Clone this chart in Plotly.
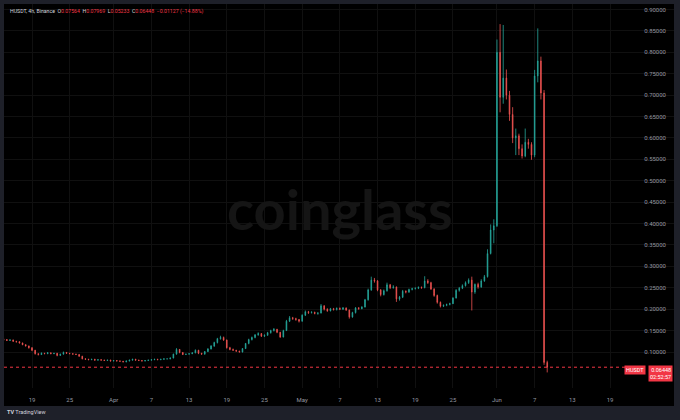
import pandas as pd
import plotly.graph_objects as go

SYMBOL = "HUSDT"
INTERVAL = "4h"
EXCHANGE = "Binance"

GREEN = "#26a69a"
RED = "#ef5350"
LABEL_RED = "#f23645"

# 4h bars are ~1px wide in the screenshot, so read as 12h bars
START = "2025-03-14 12:00"
first_open = 0.130
closes = [
    0.129, 0.127, 0.128, 0.125, 0.124, 0.121, 0.117, 0.114, 0.110, 0.104,
    0.096, 0.094, 0.097, 0.096, 0.098, 0.096, 0.097, 0.092, 0.095, 0.099,
    0.097, 0.096, 0.095, 0.094, 0.090, 0.084, 0.083, 0.082, 0.083, 0.081,
    0.082, 0.081, 0.080, 0.081, 0.079, 0.080, 0.079, 0.0785, 0.077, 0.079,
    0.081, 0.083, 0.081, 0.080, 0.079, 0.080, 0.081, 0.082, 0.083, 0.082,
    0.083, 0.084, 0.084, 0.086, 0.095, 0.106, 0.099, 0.094, 0.095, 0.096,
    0.098, 0.104, 0.097, 0.095, 0.101, 0.107, 0.114, 0.122, 0.131, 0.134,
    0.128, 0.110, 0.106, 0.104, 0.102, 0.100, 0.108, 0.120, 0.129, 0.134,
    0.140, 0.143, 0.137, 0.139, 0.145, 0.150, 0.153, 0.146, 0.135, 0.150,
    0.172, 0.180, 0.178, 0.176, 0.172, 0.186, 0.194, 0.192, 0.193, 0.190,
    0.191, 0.208, 0.200, 0.196, 0.201, 0.199, 0.202, 0.200, 0.203, 0.198,
    0.182, 0.192, 0.203, 0.201, 0.205, 0.222, 0.245, 0.268, 0.266, 0.245,
    0.234, 0.243, 0.257, 0.250, 0.252, 0.224, 0.228, 0.242, 0.240, 0.246,
    0.248, 0.249, 0.251, 0.250, 0.266, 0.262, 0.247, 0.232, 0.216, 0.207,
    0.209, 0.211, 0.213, 0.226, 0.244, 0.249, 0.255, 0.262, 0.268, 0.240,
    0.258, 0.252, 0.266, 0.276, 0.330, 0.385, 0.395, 0.800, 0.695, 0.740,
    0.700, 0.655, 0.600, 0.605, 0.575, 0.558, 0.590, 0.585, 0.560, 0.745,
    0.780, 0.705, 0.07564, 0.06448,
]
highs = [
    0.131, 0.130, 0.130, 0.129, 0.126, 0.125, 0.122, 0.118, 0.115, 0.111,
    0.105, 0.097, 0.099, 0.098, 0.100, 0.099, 0.098, 0.098, 0.096, 0.101,
    0.100, 0.098, 0.097, 0.096, 0.095, 0.091, 0.085, 0.084, 0.084, 0.084,
    0.083, 0.083, 0.082, 0.082, 0.082, 0.081, 0.081, 0.080, 0.079, 0.080,
    0.082, 0.084, 0.084, 0.082, 0.081, 0.081, 0.082, 0.083, 0.084, 0.084,
    0.084, 0.085, 0.085, 0.087, 0.096, 0.109, 0.107, 0.100, 0.096, 0.097,
    0.099, 0.106, 0.105, 0.098, 0.102, 0.109, 0.116, 0.124, 0.133, 0.138,
    0.136, 0.129, 0.112, 0.108, 0.105, 0.103, 0.109, 0.121, 0.131, 0.136,
    0.142, 0.146, 0.144, 0.141, 0.147, 0.152, 0.156, 0.154, 0.147, 0.152,
    0.175, 0.184, 0.182, 0.180, 0.177, 0.188, 0.197, 0.196, 0.195, 0.194,
    0.193, 0.212, 0.209, 0.202, 0.203, 0.203, 0.204, 0.204, 0.205, 0.204,
    0.199, 0.194, 0.205, 0.205, 0.207, 0.224, 0.248, 0.276, 0.273, 0.268,
    0.247, 0.246, 0.262, 0.259, 0.256, 0.253, 0.231, 0.245, 0.244, 0.248,
    0.250, 0.251, 0.253, 0.253, 0.277, 0.270, 0.264, 0.249, 0.234, 0.218,
    0.211, 0.213, 0.215, 0.228, 0.247, 0.252, 0.258, 0.265, 0.272, 0.276,
    0.260, 0.262, 0.270, 0.280, 0.340, 0.398, 0.410, 0.830, 0.866, 0.864,
    0.760, 0.710, 0.672, 0.622, 0.610, 0.585, 0.622, 0.598, 0.590, 0.759,
    0.856, 0.790, 0.712, 0.07969,
]
lows = [
    0.127, 0.126, 0.126, 0.124, 0.122, 0.120, 0.116, 0.113, 0.108, 0.102,
    0.094, 0.092, 0.093, 0.095, 0.095, 0.095, 0.095, 0.090, 0.091, 0.094,
    0.096, 0.095, 0.094, 0.093, 0.089, 0.083, 0.082, 0.081, 0.081, 0.080,
    0.080, 0.080, 0.079, 0.079, 0.078, 0.078, 0.078, 0.077, 0.076, 0.076,
    0.078, 0.080, 0.080, 0.079, 0.078, 0.078, 0.079, 0.080, 0.081, 0.081,
    0.081, 0.082, 0.083, 0.083, 0.085, 0.094, 0.097, 0.093, 0.093, 0.094,
    0.095, 0.097, 0.095, 0.094, 0.094, 0.100, 0.106, 0.112, 0.120, 0.129,
    0.126, 0.108, 0.104, 0.103, 0.101, 0.099, 0.099, 0.107, 0.118, 0.127,
    0.132, 0.138, 0.135, 0.135, 0.138, 0.143, 0.148, 0.144, 0.133, 0.134,
    0.149, 0.170, 0.175, 0.173, 0.169, 0.171, 0.184, 0.189, 0.190, 0.188,
    0.187, 0.190, 0.197, 0.194, 0.195, 0.197, 0.197, 0.198, 0.198, 0.196,
    0.178, 0.180, 0.190, 0.199, 0.200, 0.204, 0.220, 0.243, 0.262, 0.242,
    0.230, 0.232, 0.241, 0.247, 0.248, 0.217, 0.220, 0.226, 0.237, 0.238,
    0.244, 0.246, 0.247, 0.248, 0.249, 0.259, 0.245, 0.229, 0.213, 0.204,
    0.205, 0.207, 0.209, 0.212, 0.225, 0.241, 0.247, 0.253, 0.259, 0.197,
    0.236, 0.248, 0.250, 0.264, 0.274, 0.328, 0.354, 0.392, 0.660, 0.680,
    0.690, 0.640, 0.588, 0.560, 0.560, 0.552, 0.555, 0.575, 0.549, 0.555,
    0.730, 0.690, 0.0700, 0.05233,
]
opens = [first_open] + closes[:-1]
dates = pd.date_range(START, periods=len(closes), freq="12h")

# legend line at the top (values of the live 4h bar)
header_ohlc = {"O": 0.07564, "H": 0.07969, "L": 0.05233, "C": 0.06448}
header_change = "\u22120.01127 (\u221214.88%)"
countdown = "02:52:57"

tick_dates = ["2025-03-19", "2025-03-25", "2025-04-01", "2025-04-07", "2025-04-13",
              "2025-04-19", "2025-04-25", "2025-05-01", "2025-05-07", "2025-05-13",
              "2025-05-19", "2025-05-25", "2025-06-01", "2025-06-07", "2025-06-13",
              "2025-06-19", "2025-06-25"]
tick_text = ["19", "25", "Apr", "7", "13", "19", "25", "May", "7", "13",
             "19", "25", "Jun", "7", "13", "19", "2"]
price_ticks = [0.10, 0.15, 0.20, 0.25, 0.30, 0.35, 0.40, 0.45, 0.50,
               0.55, 0.60, 0.65, 0.70, 0.75, 0.80, 0.85, 0.90]

W, H = 680, 420
last_close = header_ohlc["C"]


def fx(px):
    return px / W


def fy(px):
    return 1 - px / H


fig = go.Figure(go.Candlestick(
    x=dates, open=opens, high=highs, low=lows, close=closes,
    increasing=dict(line=dict(color=GREEN, width=0.8), fillcolor=GREEN),
    decreasing=dict(line=dict(color=RED, width=0.8), fillcolor=RED),
    whiskerwidth=0, hoverinfo="skip",
))

axis_font = dict(family="Roboto, sans-serif", size=6, color="#9598a1")
fig.update_layout(
    width=W, height=H,
    margin=dict(l=0, r=0, t=0, b=0),
    paper_bgcolor="#1e2029",
    plot_bgcolor="#000000",
    showlegend=False,
    boxgap=0.7,  # thinner candle bodies
    xaxis=dict(
        domain=[fx(4), fx(674)],
        range=["2025-03-14 13:03", "2025-06-29 04:20"],
        tickvals=tick_dates, ticktext=tick_text,
        showgrid=True, gridcolor="#101010", gridwidth=1,
        zeroline=False, showline=False, ticks="",
        tickfont=axis_font, ticklabelstandoff=7,
        rangeslider=dict(visible=False),
    ),
    yaxis=dict(
        domain=[fy(388), fy(4)],
        range=[0.0159, 0.913],
        side="right", ticklabelposition="inside",
        tickvals=price_ticks, tickformat=".5f",
        showgrid=True, gridcolor="#101010", gridwidth=1,
        zeroline=False, showline=False, ticks="",
        tickfont=axis_font, ticklabelstandoff=5,
    ),
    shapes=[
        # time scale strip stays black like the pane
        dict(type="rect", xref="paper", yref="paper", x0=fx(4), x1=fx(674),
             y0=fy(406), y1=fy(388), fillcolor="#000000", line=dict(width=0),
             layer="below"),
        dict(type="line", xref="paper", yref="y", x0=fx(4), x1=fx(629),
             y0=last_close, y1=last_close,
             line=dict(color=LABEL_RED, width=1, dash="dot")),
    ],
)

header = f"{SYMBOL}, {INTERVAL}, {EXCHANGE}&nbsp;&nbsp;"
for k, v in header_ohlc.items():
    header += f"{k}<span style='color:{LABEL_RED}'>{v:.5f}</span>&nbsp;&nbsp;"
header += f"<span style='color:{LABEL_RED}'>{header_change}</span>"

fig.add_annotation(x=fx(8), y=fy(11), xref="paper", yref="paper",
                   xanchor="left", yanchor="middle", showarrow=False, text=header,
                   font=dict(family="Roboto, sans-serif", size=5.2, color="#d1d4dc"))
fig.add_annotation(x=fx(340), y=fy(208), xref="paper", yref="paper",
                   xanchor="center", yanchor="middle", showarrow=False,
                   text="<b>coinglass</b>",
                   font=dict(family="Lato, sans-serif", size=56, color="#151515"))
fig.add_annotation(x=fx(646), y=fy(365), xref="paper", yref="paper",
                   xanchor="right", yanchor="top", showarrow=False, text=SYMBOL,
                   bgcolor=LABEL_RED, borderpad=1,
                   font=dict(family="Roboto, sans-serif", size=5.5, color="#ffffff"))
fig.add_annotation(x=fx(673), y=fy(365), xref="paper", yref="paper",
                   xanchor="right", yanchor="top", showarrow=False,
                   text=f"{last_close:.5f}<br>{countdown}", align="right",
                   bgcolor=LABEL_RED, borderpad=1,
                   font=dict(family="Roboto, sans-serif", size=5.5, color="#ffffff"))
fig.add_annotation(x=fx(5), y=fy(412), xref="paper", yref="paper",
                   xanchor="left", yanchor="middle", showarrow=False,
                   text="<b>TV</b> TradingView",
                   font=dict(family="Roboto, sans-serif", size=5.5, color="#d1d4dc"))

# page body has a default 8px margin; drop it so the chart sits at 0,0
fig.write_html("out.html", config={"displayModeBar": False},
               post_script="document.body.style.margin='0';")
